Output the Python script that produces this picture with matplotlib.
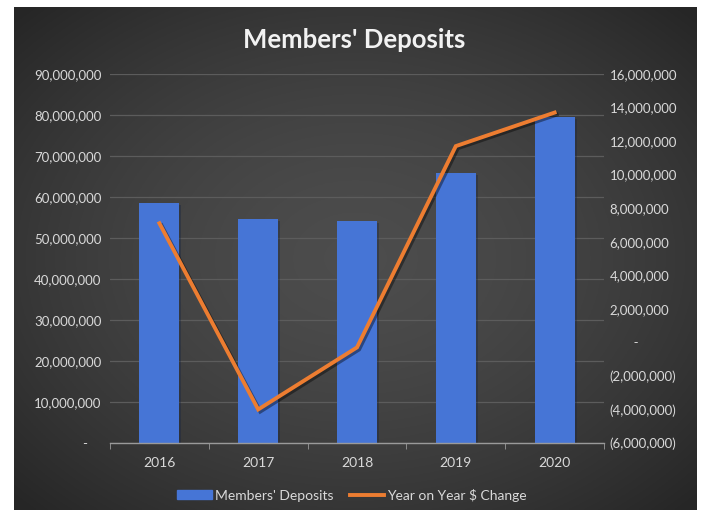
import numpy as np
import matplotlib.pyplot as plt
from matplotlib.ticker import FuncFormatter
import matplotlib.patheffects as pe

plt.rcParams['font.family'] = ['Lato', 'DejaVu Sans']

years = ['2016', '2017', '2018', '2019', '2020']
deposits = [58600000, 54600000, 54200000, 65900000, 79600000]
yoy_change = [7100000, -4000000, -300000, 11700000, 13700000]

text_col = '#d9d9d9'

fig = plt.figure(figsize=(7.04, 5.14), dpi=100, facecolor='white')

# dark panel with a soft radial gradient
bg = fig.add_axes([14 / 704, 1 - 510 / 514, (697 - 14) / 704, (510 - 7) / 514])
yy, xx = np.mgrid[0:1:300j, 0:1:400j]
r = np.sqrt(((xx - 0.5) / 0.75) ** 2 + ((yy - 0.5) / 0.75) ** 2)
shade = np.clip(0.30 - 0.17 * r ** 1.6, 0.15, 0.32)
bg.imshow(np.dstack([shade] * 3), extent=[0, 1, 0, 1], aspect='auto')
bg.axis('off')

ax = fig.add_axes([110 / 704, 1 - 443 / 514, (604 - 110) / 704, (443 - 74) / 514])
ax.patch.set_alpha(0)
x = np.arange(len(years))

ax.bar(x, deposits, width=0.405, color='#4675d6', zorder=3,
       path_effects=[pe.SimplePatchShadow(offset=(1.5, -1.5), alpha=0.35), pe.Normal()])
ax.set_xlim(-0.5, len(years) - 0.5)
ax.set_ylim(0, 90000000)
ax.set_yticks(np.arange(0, 90000001, 10000000))
ax.yaxis.set_major_formatter(FuncFormatter(lambda v, p: '-    ' if v == 0 else f'{v:,.0f}'))
ax.grid(axis='y', color='#5c5c5c', lw=0.9, zorder=0)

ax.set_xticks(x)
ax.set_xticklabels(years)
ax.set_xticks(np.arange(-0.5, len(years)), minor=True)
ax.tick_params(axis='x', which='major', length=0, pad=10, colors=text_col, labelsize=10)
ax.tick_params(axis='x', which='minor', length=4, direction='out', color='#9a9a9a')
ax.tick_params(axis='y', length=0, pad=6, colors=text_col, labelsize=9.5)
for s in ['top', 'right', 'left']:
    ax.spines[s].set_visible(False)
ax.spines['bottom'].set_color('#9a9a9a')
ax.spines['bottom'].set_linewidth(1.0)
ax.spines['bottom'].set_zorder(4)

ax2 = ax.twinx()
ax2.plot(x, yoy_change, color='#ed7d31', lw=2.8, zorder=5, solid_joinstyle='miter',
         path_effects=[pe.SimpleLineShadow(offset=(1.5, -1.5), alpha=0.4), pe.Normal()])
ax2.set_ylim(-6000000, 16000000)
ax2.set_yticks(np.arange(-6000000, 16000001, 2000000))


def right_fmt(v, p):
    if v == 0:
        return '       -'
    if v < 0:
        return f'({-v:,.0f})'
    return f'{v:,.0f}'


ax2.yaxis.set_major_formatter(FuncFormatter(right_fmt))
ax2.tick_params(axis='y', length=0, pad=4, colors=text_col, labelsize=9.5)
for s in ax2.spines.values():
    s.set_visible(False)

fig.text(0.503, 1 - 40 / 514, "Members' Deposits", ha='center', va='center',
         color='#f2f2f2', fontsize=18.5, fontweight='bold')

# legend
h1 = plt.Rectangle((0, 0), 1, 1, color='#4675d6')
h2 = plt.Line2D([], [], color='#ed7d31', lw=2.8)
leg = fig.legend([h1, h2], ["Members' Deposits", 'Year on Year $ Change'],
                 loc='center', bbox_to_anchor=(0.5, 1 - 495 / 514), ncol=2,
                 frameon=False, fontsize=10, handlelength=2.5, handleheight=0.6,
                 handletextpad=0.2, columnspacing=1.2)
for t in leg.get_texts():
    t.set_color(text_col)

fig.savefig('out.png', dpi=100, facecolor='white')
